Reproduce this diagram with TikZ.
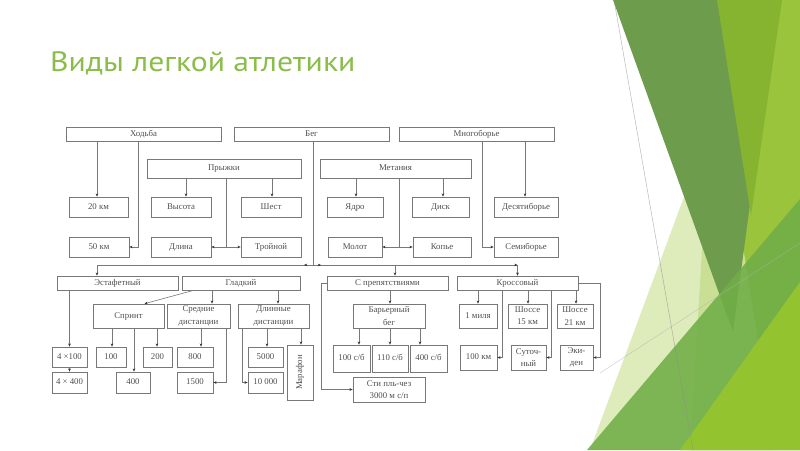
\documentclass[tikz,border=0pt]{standalone}
\usepackage{fontspec}
\setmainfont{Liberation Serif}
\newfontfamily\titlefont[FakeStretch=1.13]{PT Sans}
\usepackage{graphicx}
\usepackage{tikz}
\usetikzlibrary{arrows.meta}

\definecolor{titlegreen}{RGB}{139,189,73}
\definecolor{txtgray}{RGB}{80,80,80}
\definecolor{linegray}{RGB}{120,120,120}
\definecolor{limeband}{RGB}{153,196,60}
\definecolor{midband}{RGB}{134,180,49}
\definecolor{darkband}{RGB}{108,156,76}
\definecolor{paleband}{RGB}{214,231,170}
\definecolor{grnband}{RGB}{112,174,71}
\definecolor{limetri}{RGB}{147,196,47}

\begin{document}
\begin{tikzpicture}[x=1pt,y=-1pt,
  box/.style={draw=linegray, fill=white, text=txtgray, font=\fontsize{8.8}{12.3}\selectfont, align=center, inner sep=0pt, line width=0.6pt},
  oneline/.style={box, text height=6pt, text depth=1.6pt},
  link/.style={draw=linegray, line width=0.6pt},
  arr/.style={link, -{Stealth[length=3.2pt,width=2.6pt,color=black!80]}},
  facet/.style={draw=none}
]
\fill[white] (0,0) rectangle (800,450);
\useasboundingbox (0,0) rectangle (800,450);

% slide background
\fill[facet, limeband] (717,0) -- (800,0) -- (800,450) -- (690,450) -- cycle;
\fill[facet, paleband, fill opacity=0.8] (720,100) -- (590,450) -- (775,450) -- cycle;
\fill[facet, darkband] (613,0) -- (777,0) -- (733,332) -- cycle;
\fill[facet, midband] (717,0) -- (782,0) -- (751,215) -- cycle;
\fill[facet, grnband, fill opacity=0.88] (587,450) -- (800,199) -- (800,450) -- cycle;
\fill[facet, limetri] (680,450) -- (800,282) -- (800,450) -- cycle;
\draw[black!45, line width=0.5pt, opacity=0.6] (614,0) -- (693,450);
\draw[black!30, line width=0.5pt, opacity=0.6] (600,373) -- (800,243);

\node[anchor=base west, inner sep=0pt, text=titlegreen, font=\titlefont\fontsize{28}{32}\selectfont] (title) at (50,71) {Виды легкой атлетики};

\foreach \nm/\cx/\w/\txt in {hodba/143.5/155/Ходьба, beg/311.5/155/Бег, mnogo/476.5/155/Многоборье}
  \node[oneline, minimum width=\w*1pt, minimum height=14pt] (\nm) at (\cx,134) {\txt};
\foreach \nm/\cx/\w/\txt in {pryzh/224/154/Прыжки, metan/395.5/151/Метания}
  \node[oneline, minimum width=\w*1pt, minimum height=19pt] (\nm) at (\cx,168.5) {\txt};
\foreach \nm/\cx/\w/\txt in {km20/98.5/59/20 км, vys/181/60/Высота, shest/271/60/Шест, yadro/355/56/Ядро, disk/440.5/57/Диск, desyat/526/64/Десятиборье}
  \node[oneline, minimum width=\w*1pt, minimum height=20pt] (\nm) at (\cx,207) {\txt};
\foreach \nm/\cx/\w/\txt in {km50/99/60/50 км, dlina/181/60/Длина, troin/271/60/Тройной, molot/355/54/Молот, kopye/442/58/Копье, semi/526/64/Семиборье}
  \node[oneline, minimum width=\w*1pt, minimum height=20pt] (\nm) at (\cx,247) {\txt};
\foreach \nm/\cx/\w/\txt in {estaf/117.5/121/Эстафетный, gladk/241/118/Гладкий, prep/387.5/121/С препятствиями, kross/517.5/121/Кроссовый}
  \node[oneline, minimum width=\w*1pt, minimum height=14pt] (\nm) at (\cx,283) {\txt};
\foreach \nm/\cx/\w/\txt in {sred/198.5/63/{Средние\\дистанции}, dlin/273.5/71/{Длинные\\дистанции}, barier/389/72/{Барьерный\\бег}, sh15/527.5/39/{Шоссе\\15 км}, sh21/575/36/{Шоссе\\21 км}}
  \node[box, minimum width=\w*1pt, minimum height=24pt] (\nm) at (\cx,316) {\txt};
\foreach \nm/\cx/\w/\txt in {sprint/128.5/71/Спринт, milya/478/38/1 миля}
  \node[oneline, minimum width=\w*1pt, minimum height=24pt] (\nm) at (\cx,316) {\txt};
\foreach \nm/\cx/\w/\txt in {r4x100/69.5/35/4 ×100, m100/111/30/100, m200/157.5/29/200, m800/195/36/800, m5000/265.5/35/5000}
  \node[oneline, minimum width=\w*1pt, minimum height=20pt] (\nm) at (\cx,357) {\txt};
\foreach \nm/\cx/\w/\txt in {sb100/351.5/37/{100 с/б}, sb110/390/36/{110 с/б}, sb400/428.5/37/{400 с/б}}
  \node[oneline, minimum width=\w*1pt, minimum height=27pt] (\nm) at (\cx,358.5) {\txt};
\node[oneline, minimum width=37pt, minimum height=25pt] (km100) at (478.5,357.5) {100 км};
\foreach \nm/\cx/\w/\txt in {sutoch/528.5/35/{Суточ-\\ный}, ekiden/576.5/33/{Эки-\\ден}}
  \node[box, minimum width=\w*1pt, minimum height=25pt] (\nm) at (\cx,357.5) {\txt};
\foreach \nm/\cx/\w/\txt in {r4x400/69.5/35/4 × 400, m400/133/34/400, m1500/195/36/1500, m10000/265.5/35/10 000}
  \node[oneline, minimum width=\w*1pt, minimum height=21pt] (\nm) at (\cx,382.5) {\txt};
\node[box, minimum width=72pt, minimum height=25pt] (stipl) at (389,389.5) {Сти пль-чез\\3000 м с/п};
\node[box, minimum width=26pt, minimum height=55pt] (marafon) at (300,372.5) {\rotatebox{90}{Марафон}};

\foreach \x/\a/\b in {97/hodba/km20, 186/pryzh/vys, 272/pryzh/shest, 356/metan/yadro, 443/metan/disk, 525/mnogo/desyat,
    69.5/estaf/r4x100, 69.5/r4x100/r4x400, 212/gladk/sred, 278/gladk/dlin, 112/sprint/m100, 157/sprint/m200, 134/sprint/m400,
    201/sred/m800, 267/dlin/m5000, 301/dlin/marafon, 390/prep/barier, 359/barier/sb100, 390/barier/sb110, 420/barier/sb400,
    478/kross/milya, 528/kross/sh15, 576/kross/sh21}
  \draw[arr] (\x,0 |- \a.south) -- (\x,0 |- \b.north);

\draw[arr] (138,0 |- hodba.south) |- (km50.east);
\coordinate (pj) at (226,0 |- dlina.east);
\draw[link] (pj |- pryzh.south) -- (pj);
\draw[arr] (pj) -- (dlina.east);
\draw[arr] (pj) -- (troin.west);
\coordinate (mj) at (399,0 |- molot.east);
\draw[link] (mj |- metan.south) -- (mj);
\draw[arr] (mj) -- (molot.east);
\draw[arr] (mj) -- (kopye.west);
\draw[arr] (482,0 |- mnogo.south) |- (semi.west);

\coordinate (bj) at (313,265);
\draw[link] (bj |- beg.south) -- (bj);
\draw[arr] (bj) -| (97,0 |- estaf.north);
\draw[arr] (bj) -| (kross.north);
\draw[arr] (bj) -- (kross.north |- bj);
\draw[arr] (bj) -- ++(-9,0);
\draw[arr] (bj) -- ++(8,0);
\draw[arr] (395,0 |- bj) -- (395,0 |- prep.north);

\draw[arr] ([xshift=12pt]gladk.south west) -- ([xshift=16pt]sprint.north);
\draw[arr] (226,0 |- sred.south) |- (m1500.east);
\draw[arr] (242,0 |- dlin.south) |- (m10000.west);
\draw[arr] (prep.west) -- ++(-5,0) |- (stipl.west);
\draw[arr] (502,0 |- kross.south) |- (km100.east);
\draw[arr] (551,0 |- kross.south) |- (sutoch.east);
\draw[arr] (kross.east) -- ++(22,0) |- (ekiden.east);
\end{tikzpicture}
\end{document}
